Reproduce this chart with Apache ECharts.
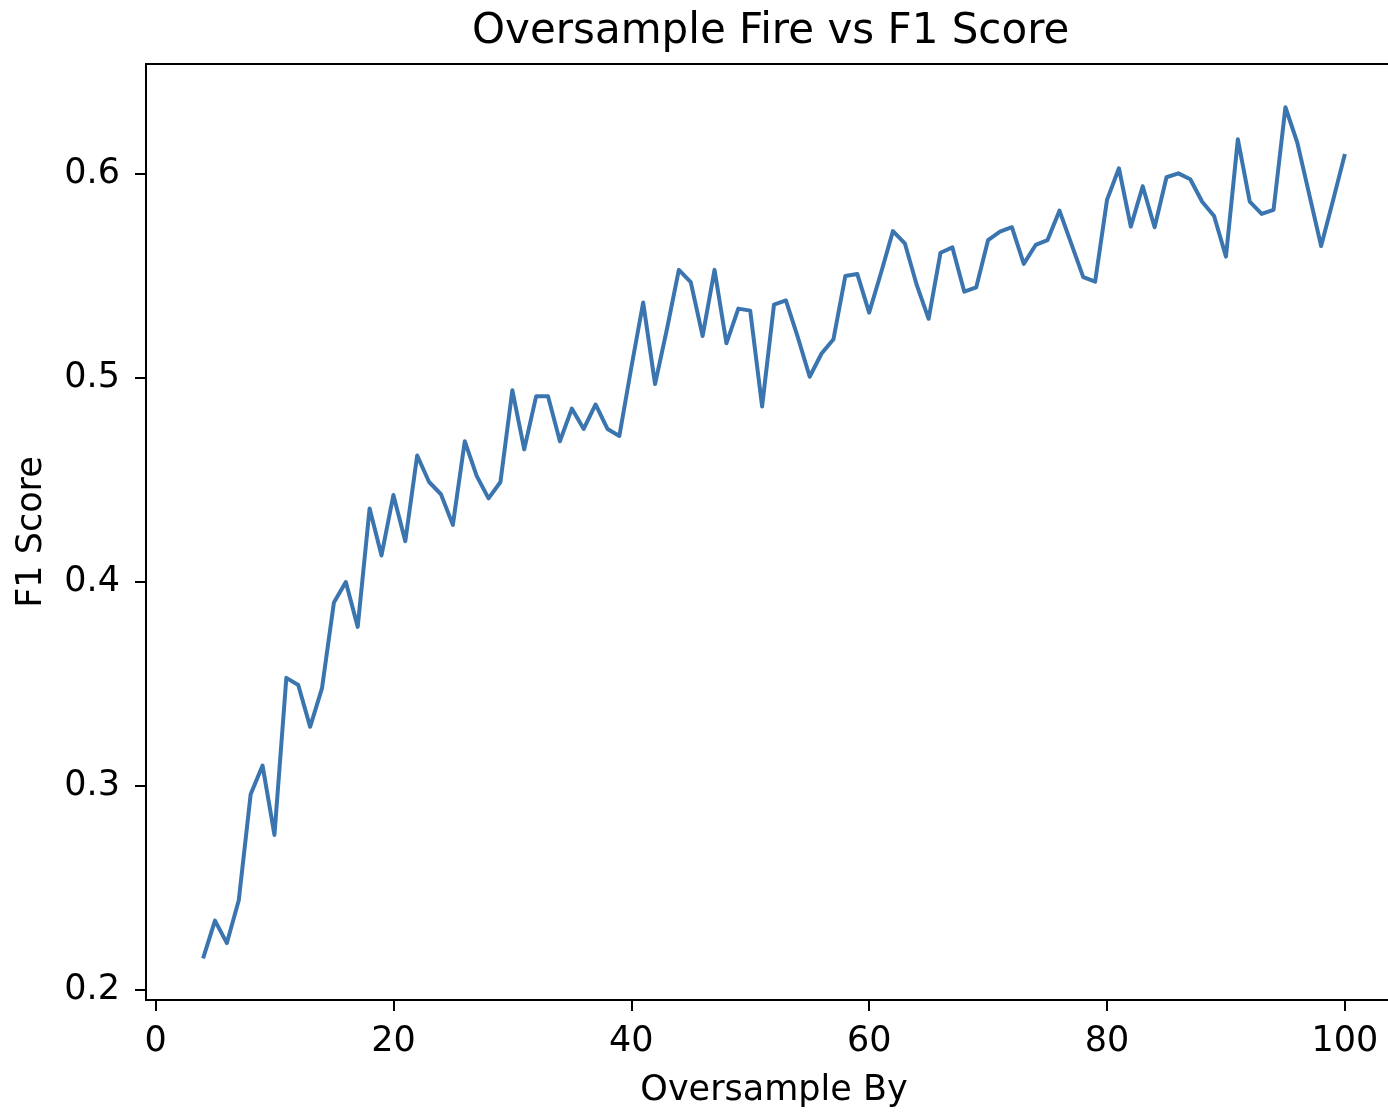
<!DOCTYPE html>
<html>
<head>
<meta charset="utf-8">
<script src="https://cdn.jsdelivr.net/npm/echarts@6/dist/echarts.min.js"></script>
<style>
html,body{margin:0;padding:0;background:#fff;}
#chart{width:1388px;height:1112px;}
</style>
</head>
<body>
<div id="chart"></div>
<script>
const titleText = 'Oversample Fire vs F1 Score';
const xName = 'Oversample By';
const yName = 'F1 Score';
const oversampleBy = [4,5,6,7,8,9,10,11,12,13,14,15,16,17,18,19,20,21,22,23,24,25,26,27,28,29,30,31,32,33,34,35,36,37,38,39,40,41,42,43,44,45,46,47,48,49,50,51,52,53,54,55,56,57,58,59,60,61,62,63,64,65,66,67,68,69,70,71,72,73,74,75,76,77,78,79,80,81,82,83,84,85,86,87,88,89,90,91,92,93,94,95,96,97,98,99,100];
const f1Score = [0.2155,0.234,0.223,0.244,0.296,0.310,0.276,0.353,0.3495,0.329,0.348,0.390,0.400,0.378,0.436,0.413,0.4426,0.420,0.462,0.449,0.443,0.428,0.469,0.452,0.441,0.449,0.494,0.465,0.491,0.491,0.469,0.485,0.475,0.487,0.475,0.4716,0.505,0.537,0.497,0.524,0.553,0.547,0.5206,0.553,0.517,0.534,0.533,0.486,0.536,0.538,0.520,0.5006,0.512,0.519,0.550,0.551,0.532,0.5516,0.572,0.566,0.5456,0.529,0.5614,0.564,0.5423,0.5444,0.5676,0.5717,0.5739,0.5559,0.5652,0.5676,0.582,0.5657,0.5494,0.5472,0.5873,0.6028,0.5742,0.594,0.5739,0.5984,0.6003,0.5974,0.5864,0.5794,0.5595,0.617,0.5864,0.5804,0.5824,0.6327,0.6153,0.590,0.5647,0.587,0.6098];
const xTicks = [0,20,40,60,80,100];
const yTicks = [0.2,0.3,0.4,0.5,0.6];

const FONT = 'DejaVu Sans';
const chart = echarts.init(document.getElementById('chart'), null, {renderer:'canvas'});
const points = oversampleBy.map((x,i)=>[x,f1Score[i]]);
chart.setOption({
  animation:false,
  backgroundColor:'#fff',
  title:{
    text:titleText, left:472, top:11, padding:0,
    textStyle:{fontFamily:FONT, fontSize:42, fontWeight:'normal', color:'#000'}
  },
  grid:{left:146, top:64, width:1256, height:936, show:true, borderColor:'#000', borderWidth:2,
    containLabel:false, outerBoundsMode:'none'},
  xAxis:{
    type:'value', min:-0.8, max:104.8,
    name:xName, nameLocation:'middle', nameGap:73,
    nameTextStyle:{fontFamily:FONT, fontSize:35, color:'#000'},
    axisLine:{show:true, onZero:false, lineStyle:{color:'#000', width:2}},
    axisTick:{show:true, customValues:xTicks, length:11, lineStyle:{color:'#000', width:2}},
    axisLabel:{customValues:xTicks, fontFamily:FONT, fontSize:35, color:'#000', margin:24},
    splitLine:{show:false}
  },
  yAxis:{
    type:'value', min:0.1951, max:0.6539,
    name:yName, nameLocation:'middle', nameGap:97,
    nameTextStyle:{fontFamily:FONT, fontSize:35, color:'#000'},
    axisLine:{show:true, onZero:false, lineStyle:{color:'#000', width:2}},
    axisTick:{show:true, customValues:yTicks, length:11, lineStyle:{color:'#000', width:2}},
    axisLabel:{customValues:yTicks, fontFamily:FONT, fontSize:35, color:'#000', margin:26,
      formatter:function(v){return v.toFixed(1);}},
    splitLine:{show:false}
  },
  series:[{
    type:'line', data:points, showSymbol:false, symbol:'none',
    lineStyle:{color:'#3b75af', width:4, join:'round'},
    clip:true
  }]
});
</script>
</body>
</html>
